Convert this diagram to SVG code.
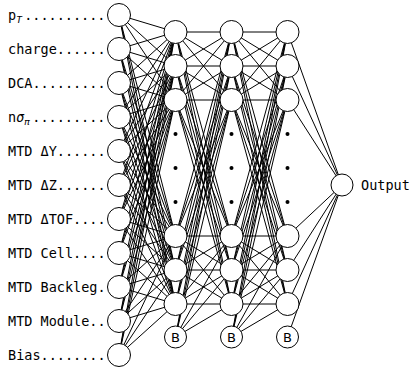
<svg xmlns="http://www.w3.org/2000/svg" width="412" height="368" viewBox="0 0 412 368">
<style>
.lbl{font-family:"DejaVu Sans Mono","Liberation Mono",monospace;font-size:13.5px;fill:#000}
.sub{font-size:9.5px;font-style:italic}
.it{font-style:italic}
.node{fill:#fff;stroke:#000;stroke-width:1}
.conn{fill:none;stroke:#000;stroke-width:1}
.b{font-family:"DejaVu Sans","Liberation Sans",sans-serif;font-size:13px;fill:#000;text-anchor:middle}
.dot{fill:#000}
</style>
<rect width="412" height="368" fill="#fff"/>
<g id="connectors" class="conn">
<path d="M119 15L175.5 32M119 15L175.5 66M119 15L175.5 100M119 15L175.5 236M119 15L175.5 270M119 15L175.5 304"/>
<path d="M119 49L175.5 32M119 49L175.5 66M119 49L175.5 100M119 49L175.5 236M119 49L175.5 270M119 49L175.5 304"/>
<path d="M119 83L175.5 32M119 83L175.5 66M119 83L175.5 100M119 83L175.5 236M119 83L175.5 270M119 83L175.5 304"/>
<path d="M119 117L175.5 32M119 117L175.5 66M119 117L175.5 100M119 117L175.5 236M119 117L175.5 270M119 117L175.5 304"/>
<path d="M119 151L175.5 32M119 151L175.5 66M119 151L175.5 100M119 151L175.5 236M119 151L175.5 270M119 151L175.5 304"/>
<path d="M119 185L175.5 32M119 185L175.5 66M119 185L175.5 100M119 185L175.5 236M119 185L175.5 270M119 185L175.5 304"/>
<path d="M119 219L175.5 32M119 219L175.5 66M119 219L175.5 100M119 219L175.5 236M119 219L175.5 270M119 219L175.5 304"/>
<path d="M119 253L175.5 32M119 253L175.5 66M119 253L175.5 100M119 253L175.5 236M119 253L175.5 270M119 253L175.5 304"/>
<path d="M119 287L175.5 32M119 287L175.5 66M119 287L175.5 100M119 287L175.5 236M119 287L175.5 270M119 287L175.5 304"/>
<path d="M119 321L175.5 32M119 321L175.5 66M119 321L175.5 100M119 321L175.5 236M119 321L175.5 270M119 321L175.5 304"/>
<path d="M119 355L175.5 32M119 355L175.5 66M119 355L175.5 100M119 355L175.5 236M119 355L175.5 270M119 355L175.5 304"/>

<path d="M175.5 32L231.5 32M175.5 32L231.5 66M175.5 32L231.5 100M175.5 32L231.5 236M175.5 32L231.5 270M175.5 32L231.5 304"/>
<path d="M175.5 66L231.5 32M175.5 66L231.5 66M175.5 66L231.5 100M175.5 66L231.5 236M175.5 66L231.5 270M175.5 66L231.5 304"/>
<path d="M175.5 100L231.5 32M175.5 100L231.5 66M175.5 100L231.5 100M175.5 100L231.5 236M175.5 100L231.5 270M175.5 100L231.5 304"/>
<path d="M175.5 236L231.5 32M175.5 236L231.5 66M175.5 236L231.5 100M175.5 236L231.5 236M175.5 236L231.5 270M175.5 236L231.5 304"/>
<path d="M175.5 270L231.5 32M175.5 270L231.5 66M175.5 270L231.5 100M175.5 270L231.5 236M175.5 270L231.5 270M175.5 270L231.5 304"/>
<path d="M175.5 304L231.5 32M175.5 304L231.5 66M175.5 304L231.5 100M175.5 304L231.5 236M175.5 304L231.5 270M175.5 304L231.5 304"/>
<path d="M175.5 337L231.5 32M175.5 337L231.5 66M175.5 337L231.5 100M175.5 337L231.5 236M175.5 337L231.5 270M175.5 337L231.5 304"/>

<path d="M231.5 32L287.5 32M231.5 32L287.5 66M231.5 32L287.5 100M231.5 32L287.5 236M231.5 32L287.5 270M231.5 32L287.5 304"/>
<path d="M231.5 66L287.5 32M231.5 66L287.5 66M231.5 66L287.5 100M231.5 66L287.5 236M231.5 66L287.5 270M231.5 66L287.5 304"/>
<path d="M231.5 100L287.5 32M231.5 100L287.5 66M231.5 100L287.5 100M231.5 100L287.5 236M231.5 100L287.5 270M231.5 100L287.5 304"/>
<path d="M231.5 236L287.5 32M231.5 236L287.5 66M231.5 236L287.5 100M231.5 236L287.5 236M231.5 236L287.5 270M231.5 236L287.5 304"/>
<path d="M231.5 270L287.5 32M231.5 270L287.5 66M231.5 270L287.5 100M231.5 270L287.5 236M231.5 270L287.5 270M231.5 270L287.5 304"/>
<path d="M231.5 304L287.5 32M231.5 304L287.5 66M231.5 304L287.5 100M231.5 304L287.5 236M231.5 304L287.5 270M231.5 304L287.5 304"/>
<path d="M231.5 337L287.5 32M231.5 337L287.5 66M231.5 337L287.5 100M231.5 337L287.5 236M231.5 337L287.5 270M231.5 337L287.5 304"/>

<path d="M287.5 32L342 185M287.5 66L342 185M287.5 100L342 185M287.5 236L342 185M287.5 270L342 185M287.5 304L342 185M287.5 337L342 185"/>
</g>

<g id="input-pT"><circle class="node" cx="119" cy="15" r="11.5"/><text class="lbl" x="8" y="19.5">p<tspan class="sub" dy="3">T</tspan></text><text class="lbl" x="105.5" y="19.5" text-anchor="end">..........</text></g>
<g id="input-charge"><circle class="node" cx="119" cy="49" r="11.5"/><text class="lbl" x="8" y="53.5">charge......</text></g>
<g id="input-DCA"><circle class="node" cx="119" cy="83" r="11.5"/><text class="lbl" x="8" y="87.5">DCA.........</text></g>
<g id="input-nsigma"><circle class="node" cx="119" cy="117" r="11.5"/><text class="lbl" x="8" y="121.5">n<tspan class="it">σ</tspan><tspan class="sub" dy="3">π</tspan></text><text class="lbl" x="105.5" y="121.5" text-anchor="end">.........</text></g>
<g id="input-dY"><circle class="node" cx="119" cy="151" r="11.5"/><text class="lbl" x="8" y="155.5">MTD ΔY......</text></g>
<g id="input-dZ"><circle class="node" cx="119" cy="185" r="11.5"/><text class="lbl" x="8" y="189.5">MTD ΔZ......</text></g>
<g id="input-dTOF"><circle class="node" cx="119" cy="219" r="11.5"/><text class="lbl" x="8" y="223.5">MTD ΔTOF....</text></g>
<g id="input-cell"><circle class="node" cx="119" cy="253" r="11.5"/><text class="lbl" x="8" y="257.5">MTD Cell....</text></g>
<g id="input-backleg"><circle class="node" cx="119" cy="287" r="11.5"/><text class="lbl" x="8" y="291.5">MTD Backleg.</text></g>
<g id="input-module"><circle class="node" cx="119" cy="321" r="11.5"/><text class="lbl" x="8" y="325.5">MTD Module..</text></g>
<g id="input-bias"><circle class="node" cx="119" cy="355" r="11.5"/><text class="lbl" x="8" y="359.5">Bias........</text></g>

<g id="hidden1">
<circle class="node" cx="175.5" cy="32" r="11.5"/><circle class="node" cx="175.5" cy="66" r="11.5"/><circle class="node" cx="175.5" cy="100" r="11.5"/>
<circle class="dot" cx="175.5" cy="134" r="2"/><circle class="dot" cx="175.5" cy="168" r="2"/><circle class="dot" cx="175.5" cy="202" r="2"/>
<circle class="node" cx="175.5" cy="236" r="11.5"/><circle class="node" cx="175.5" cy="270" r="11.5"/><circle class="node" cx="175.5" cy="304" r="11.5"/>
</g>
<g id="bias1"><circle class="node" cx="175.5" cy="337" r="11"/><text class="b" x="175.5" y="341.7">B</text></g>
<g id="hidden2">
<circle class="node" cx="231.5" cy="32" r="11.5"/><circle class="node" cx="231.5" cy="66" r="11.5"/><circle class="node" cx="231.5" cy="100" r="11.5"/>
<circle class="dot" cx="231.5" cy="134" r="2"/><circle class="dot" cx="231.5" cy="168" r="2"/><circle class="dot" cx="231.5" cy="202" r="2"/>
<circle class="node" cx="231.5" cy="236" r="11.5"/><circle class="node" cx="231.5" cy="270" r="11.5"/><circle class="node" cx="231.5" cy="304" r="11.5"/>
</g>
<g id="bias2"><circle class="node" cx="231.5" cy="337" r="11"/><text class="b" x="231.5" y="341.7">B</text></g>
<g id="hidden3">
<circle class="node" cx="287.5" cy="32" r="11.5"/><circle class="node" cx="287.5" cy="66" r="11.5"/><circle class="node" cx="287.5" cy="100" r="11.5"/>
<circle class="dot" cx="287.5" cy="134" r="2"/><circle class="dot" cx="287.5" cy="168" r="2"/><circle class="dot" cx="287.5" cy="202" r="2"/>
<circle class="node" cx="287.5" cy="236" r="11.5"/><circle class="node" cx="287.5" cy="270" r="11.5"/><circle class="node" cx="287.5" cy="304" r="11.5"/>
</g>
<g id="bias3"><circle class="node" cx="287.5" cy="337" r="11"/><text class="b" x="287.5" y="341.7">B</text></g>
<g id="output"><circle class="node" cx="342" cy="185" r="11"/><text class="lbl" x="361" y="189.5">Output</text></g>
</svg>
